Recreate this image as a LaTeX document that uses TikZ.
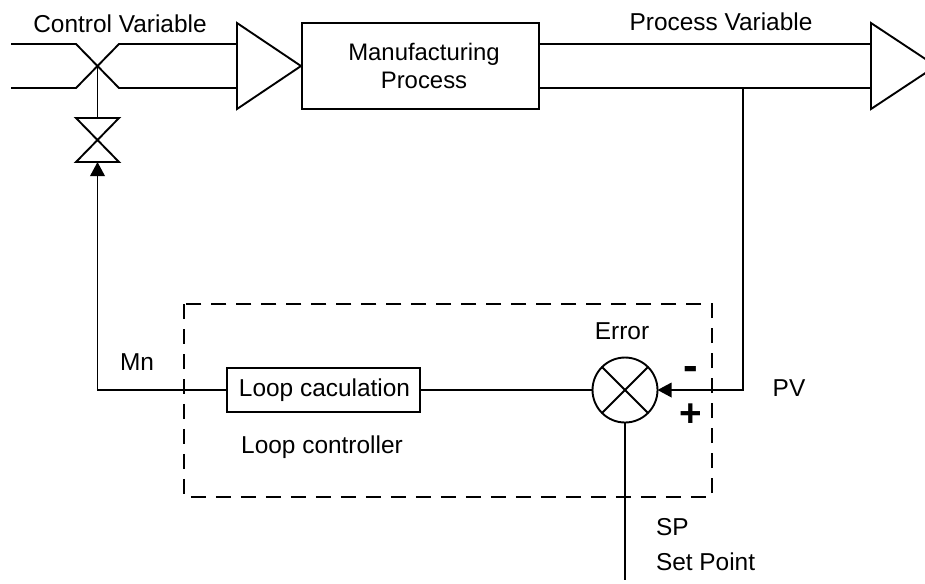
\documentclass[tikz,border=0pt]{standalone}
\usepackage{fontspec}
\setmainfont{Liberation Sans}
\usetikzlibrary{arrows.meta}

\begin{document}
\begin{tikzpicture}[x=0.02cm, y=-0.02cm, line width=0.038cm,
  every node/.style={font=\fontsize{13.9}{16}\selectfont, align=center, inner sep=0pt, outer sep=0pt},
  box/.style={rectangle, draw},
  label/.style={fill=none},
  flow/.style={-{Triangle[length=0.28cm, width=0.29cm]}}]

\useasboundingbox (0,0) rectangle (925,583);
\clip (0,0) rectangle (925,583);

\node[box, minimum width=4.74cm, minimum height=1.72cm, font=\fontsize{13.6}{16}\selectfont] (process) at (420.5,66) {\hspace*{0.14cm}Manufacturing\\[0pt]\hspace*{0.14cm}Process};
\node[box, minimum width=3.86cm, minimum height=0.88cm] (loop) at (323.5,390) {\hspace*{0.04cm}Loop caculation};
\node[circle, draw, minimum size=1.3cm] (error) at (625,390) {};

\node[label] (cv) at (120,24) {Control Variable};
\node[label] (pv) at (721,22) {Process Variable};
\node[label] (mn) at (137,362) {Mn};
\node[label] (lc) at (322,447) {Loop controller};
\node[label] (err) at (622,331) {Error};
\node[label] (pvs) at (789,388) {PV};
\node[label, anchor=west] (sp) at (656,527) {SP};
\node[label, anchor=west] (set) at (656,562) {Set Point};
\node[label, font=\fontsize{25}{26}\selectfont\bfseries] (minus) at (691,373) {-};
\node[label, font=\fontsize{22}{24}\selectfont\bfseries] (plus) at (691,415) {+};

% Tubi
\coordinate (in1) at (11,44);
\coordinate (in2) at (11,88);
\coordinate (a1) at (76,44);
\coordinate (a2) at (76,88);
\coordinate (b1) at (119,44);
\coordinate (b2) at (119,88);
\coordinate (t1) at (237,44);
\coordinate (t2) at (237,88);
\coordinate (cross) at (97.5,66);
\draw (in1) -- (a1) -- (b2) -- (t2);
\draw (in2) -- (a2) -- (b1) -- (t1);

% Triangoli
\draw (237,23) -- (237,109) -- (301,66) -- cycle;
\draw (871,23) -- (871,109) -- (936,66) -- cycle;
\draw (process.east |- t1) -- (871,44);
\draw (process.east |- t2) -- (871,88);

% Valvola
\coordinate (v1) at (76,118);
\coordinate (v2) at (119,118);
\coordinate (v3) at (76,162);
\coordinate (v4) at (119,162);
\draw (v1) -- (v2) -- (v3) -- (v4) -- cycle;
\coordinate (vtop) at (97.5,118);
\coordinate (vbot) at (97.5,162);
\draw (cross) -- (vtop);

% Anello
\coordinate (mncorner) at (97.5,390);
\coordinate (pipetap) at (743,88);
\coordinate (pvcorner) at (743,390);
\coordinate (spend) at (625,580);
\draw[flow] (loop) -- (mncorner) -- (vbot);
\draw (loop) -- (error);
\draw[flow] (pipetap) -- (pvcorner) -- (error);
\draw (error) -- (spend);
\draw (error.north west) -- (error.south east);
\draw (error.north east) -- (error.south west);

\draw[dashed, dash pattern=on 0.3cm off 0.2cm] (184,304) rectangle (712,497);

\end{tikzpicture}
\end{document}
